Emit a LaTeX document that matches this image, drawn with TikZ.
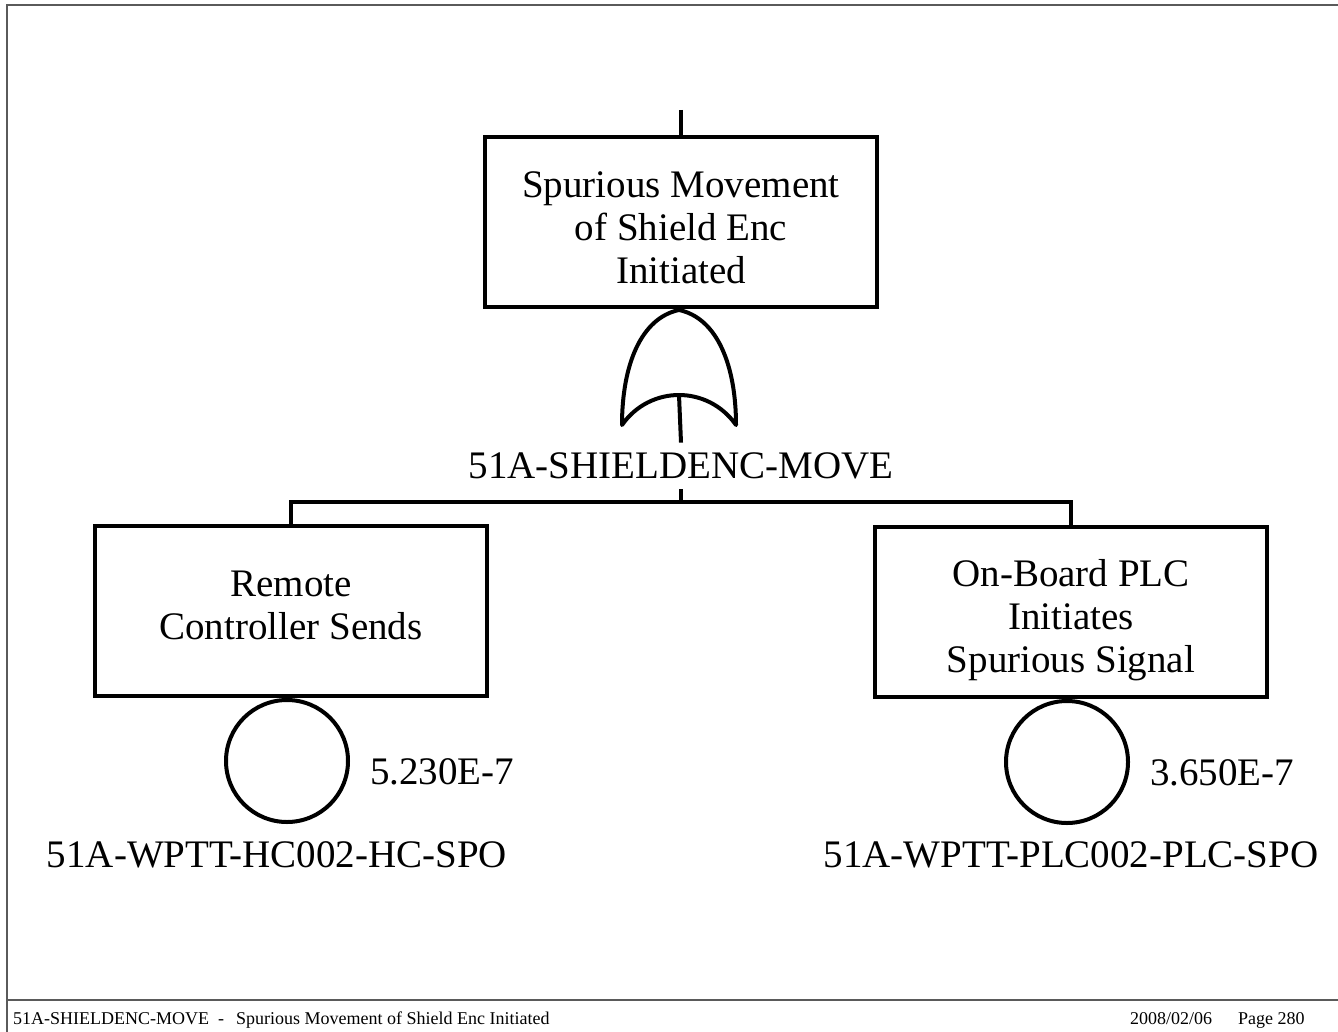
\documentclass[tikz,border=0pt]{standalone}
\usepackage{fontspec}
\setmainfont{Liberation Serif}
\usetikzlibrary{positioning}
\definecolor{framegray}{HTML}{5A5A5A}

\begin{document}
\begin{tikzpicture}[x=1pt, y=-1pt,
  evtbox/.style={draw, line width=4pt, minimum width=392pt, minimum height=170pt, inner sep=0pt},
  boxtxt/.style={inner sep=0pt, align=center, font=\fontsize{39}{43}\selectfont},
  basic/.style={draw, circle, line width=4pt, minimum size=122pt, inner sep=0pt},
  lbl/.style={inner sep=0pt, font=\fontsize{39}{43}\selectfont},
  conn/.style={line width=4pt},
  foot/.style={inner sep=0pt, anchor=base west, font=\fontsize{18}{21}\selectfont}
]
\useasboundingbox (0,0) rectangle (1338,1032);
% page frame
\draw[framegray, line width=1.5pt] (1338,5) -- (7,5) -- (7,1032);
\draw[framegray, line width=1.5pt] (7,1000) -- (1338,1000);

% top event and OR gate
\node[evtbox, label={[boxtxt, yshift=-6pt]center:Spurious Movement\\of Shield Enc\\Initiated}] (top) at (681,222) {};
\coordinate (topin) at (681,110);
\draw[conn] (topin) -- (top.north);
\coordinate (gtop) at (679,310);
\coordinate (gin) at (679,395);
\draw[conn, line join=round] (gtop) .. controls (641,318) and (622,365) .. (622,425)
  .. controls (650,385) and (708,385) .. (736,425)
  .. controls (736,365) and (717,318) .. (gtop);
\node[lbl, inner sep=10pt] (glbl) at (681,466) {51A-SHIELDENC-MOVE};
\draw[conn] (gin) -- (glbl.north);

% inputs
\node[evtbox, label={[boxtxt, yshift=6pt]center:Remote\\Controller Sends}] (rc) at (291,611) {};
\node[evtbox, label={[boxtxt, yshift=-8pt]center:On-Board PLC\\Initiates\\Spurious Signal}] (plc) at (1071,612) {};
\coordinate (bar) at (681,502);
\draw[conn] (glbl.south) -- (bar);
\draw[conn] (bar) -| (rc.north);
\draw[conn] (bar) -| (plc.north);

% basic events
\node[basic, below=0pt of rc, xshift=-4pt] (rcev) {};
\node[basic, below=0pt of plc, xshift=-4pt] (plcev) {};
\node[lbl, anchor=west] (rcp) at ([xshift=20pt, yshift=-11pt]rcev.east) {5.230E-7};
\node[lbl, anchor=west] (plcp) at ([xshift=20pt, yshift=-11pt]plcev.east) {3.650E-7};
\node[lbl] (rcid) at (277,855) {51A-WPTT-HC002-HC-SPO};
\node[lbl] (plcid) at (1071,855) {51A-WPTT-PLC002-PLC-SPO};

% footer
\node[foot] (fname) at (13,1024) {51A-SHIELDENC-MOVE};
\node[foot] (fdash) at (218,1024) {-};
\node[foot] (fdesc) at (236,1024) {Spurious Movement of Shield Enc Initiated};
\node[foot] (fdate) at (1130,1024) {2008/02/06};
\node[foot] (fpage) at (1238,1024) {Page 280};
\end{tikzpicture}
\end{document}
